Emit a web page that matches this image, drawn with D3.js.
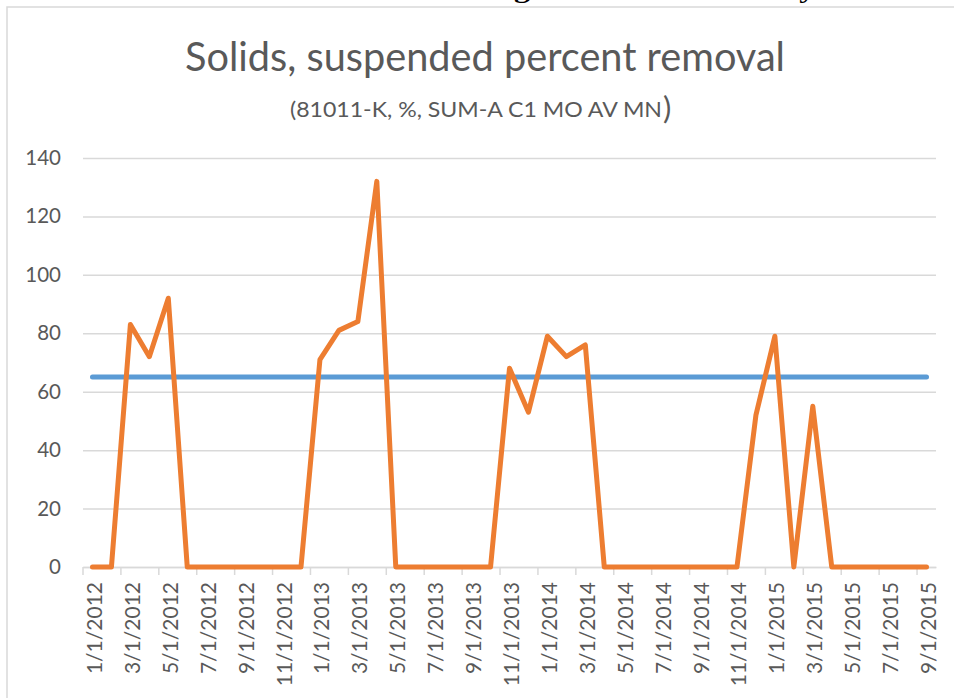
<!DOCTYPE html>
<html>
<head>
<meta charset="utf-8">
<script src="https://cdn.jsdelivr.net/npm/d3@7"></script>
<style>
	html, body { margin: 0; padding: 0; background: #fff; }
	svg { display: block; }
</style>
</head>
<body>
<svg id="main-svg" width="954" height="698"></svg>
<script>

	// Monthly categories (one per month, labels shown every other month)
	var categories = [
		'1/1/2012', '2/1/2012', '3/1/2012', '4/1/2012', '5/1/2012', '6/1/2012',
		'7/1/2012', '8/1/2012', '9/1/2012', '10/1/2012', '11/1/2012', '12/1/2012',
		'1/1/2013', '2/1/2013', '3/1/2013', '4/1/2013', '5/1/2013', '6/1/2013',
		'7/1/2013', '8/1/2013', '9/1/2013', '10/1/2013', '11/1/2013', '12/1/2013',
		'1/1/2014', '2/1/2014', '3/1/2014', '4/1/2014', '5/1/2014', '6/1/2014',
		'7/1/2014', '8/1/2014', '9/1/2014', '10/1/2014', '11/1/2014', '12/1/2014',
		'1/1/2015', '2/1/2015', '3/1/2015', '4/1/2015', '5/1/2015', '6/1/2015',
		'7/1/2015', '8/1/2015', '9/1/2015'
	];

	// Measured percent removal
	var removalValues = [
		0, 0, 83, 72, 92, 0,
		0, 0, 0, 0, 0, 0,
		71, 81, 84, 132, 0, 0,
		0, 0, 0, 0, 68, 53,
		79, 72, 76, 0, 0, 0,
		0, 0, 0, 0, 0, 52,
		79, 0, 55, 0, 0, 0,
		0, 0, 0
	];

	// Required minimum removal
	var limitValue = 65;

	var yTicks = [ 0, 20, 40, 60, 80, 100, 120, 140 ];

	var textColor = '#595959',
		gridColor = '#d9d9d9',
		font = 'Lato, "Open Sans", sans-serif';

	var svg = d3.select( 'svg#main-svg' );

	// chart frame (runs off the right and bottom of the picture)
	svg.append( 'rect' )
		.attr( 'x', 7 )
		.attr( 'y', 7 )
		.attr( 'width', 960 )
		.attr( 'height', 720 )
		.attr( 'fill', '#fff' )
		.attr( 'stroke', gridColor )
		.attr( 'stroke-width', 1.5 );

	// caption of the document, cut off at the top like in the scan
	svg.append( 'text' )
		.attr( 'x', 490 )
		.attr( 'y', -2 )
		.attr( 'text-anchor', 'middle' )
		.attr( 'font-family', '"Liberation Serif", serif' )
		.attr( 'font-weight', 'bold' )
		.attr( 'font-size', 24 )
		.attr( 'textLength', 650 )
		.attr( 'lengthAdjust', 'spacingAndGlyphs' )
		.attr( 'fill', '#000' )
		.text( 'Violation of TSS Percentage Removal Efficiency' );

	svg.append( 'text' )
		.attr( 'x', 485 )
		.attr( 'y', 71 )
		.attr( 'text-anchor', 'middle' )
		.attr( 'font-family', font )
		.attr( 'font-size', 40 )
		.attr( 'textLength', 600 )
		.attr( 'lengthAdjust', 'spacingAndGlyphs' )
		.attr( 'fill', textColor )
		.text( 'Solids, suspended percent removal' );

	svg.append( 'text' )
		.attr( 'x', 290 )
		.attr( 'y', 117 )
		.attr( 'font-family', font )
		.attr( 'font-size', 21 )
		.attr( 'textLength', 372 )
		.attr( 'lengthAdjust', 'spacingAndGlyphs' )
		.attr( 'fill', textColor )
		.text( '(81011-K, %, SUM-A C1 MO AV MN' );

	svg.append( 'text' )
		.attr( 'x', 663 )
		.attr( 'y', 119 )
		.attr( 'font-family', font )
		.attr( 'font-size', 31 )
		.attr( 'fill', textColor )
		.text( ')' );

	var x = d3.scaleBand()
			.domain( categories )
			.range( [ 83, 936 ] ),
		y = d3.scaleLinear()
			.domain( [ 0, 140 ] )
			.range( [ 567, 158 ] ),
		half = x.bandwidth() / 2;

	// horizontal grid + value labels
	var yAxis = svg.append( 'g' )
		.attr( 'transform', 'translate(83,0)' )
		.call( d3.axisLeft( y )
			.tickValues( yTicks )
			.tickSize( -853 )
			.tickPadding( 22 ) );

	yAxis.select( '.domain' ).remove();
	yAxis.selectAll( '.tick line' )
		.attr( 'stroke', gridColor )
		.attr( 'stroke-width', 1.5 );
	yAxis.selectAll( '.tick text' )
		.attr( 'font-family', font )
		.attr( 'font-size', 20.5 )
		.attr( 'fill', textColor );

	// category axis: ticks sit on the left edge of every other month
	var labelled = categories.filter( function( c, i ) { return i % 2 === 0; } );

	var xAxis = svg.append( 'g' )
		.attr( 'transform', 'translate(0,567)' )
		.call( d3.axisBottom( x )
			.tickValues( labelled )
			.tickSize( 0 )
			.tickPadding( 0 ) );

	xAxis.select( '.domain' )
		.attr( 'stroke', gridColor )
		.attr( 'stroke-width', 1.5 );
	xAxis.selectAll( '.tick text' )
		.attr( 'font-family', font )
		.attr( 'font-size', 21 )
		.attr( 'fill', textColor )
		.attr( 'text-anchor', 'end' )
		.attr( 'dy', null )
		.attr( 'dominant-baseline', 'central' )
		.attr( 'transform', 'translate(1,15) rotate(-90)' );

	svg.append( 'g' )
		.selectAll( 'line' )
		.data( labelled )
		.join( 'line' )
		.attr( 'x1', function( c ) { return x( c ); } )
		.attr( 'x2', function( c ) { return x( c ); } )
		.attr( 'y1', 567 )
		.attr( 'y2', 575 )
		.attr( 'stroke', gridColor )
		.attr( 'stroke-width', 1.5 );

	// limit line
	svg.append( 'line' )
		.attr( 'x1', x( categories[ 0 ] ) + half )
		.attr( 'x2', x( categories[ categories.length - 1 ] ) + half )
		.attr( 'y1', y( limitValue ) )
		.attr( 'y2', y( limitValue ) )
		.attr( 'stroke', '#5b9bd5' )
		.attr( 'stroke-width', 5 )
		.attr( 'stroke-linecap', 'round' );

	// measured removal
	var line = d3.line()
		.x( function( d, i ) { return x( categories[ i ] ) + half; } )
		.y( function( d ) { return y( d ); } );

	svg.append( 'path' )
		.datum( removalValues )
		.attr( 'd', line )
		.attr( 'fill', 'none' )
		.attr( 'stroke', '#ed7d31' )
		.attr( 'stroke-width', 5 )
		.attr( 'stroke-linecap', 'round' )
		.attr( 'stroke-linejoin', 'round' );

</script>
</body>
</html>
